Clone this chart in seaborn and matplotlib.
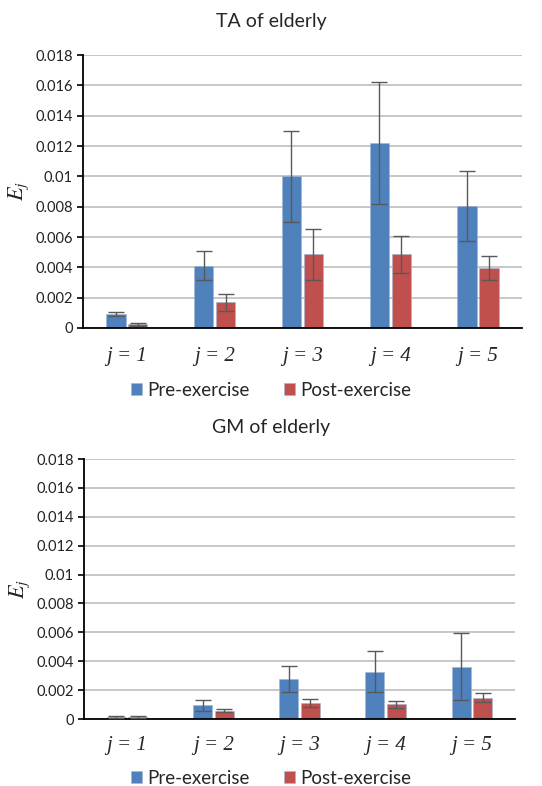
import pandas as pd
import matplotlib
matplotlib.use('Agg')
import matplotlib.pyplot as plt
import seaborn as sns

# data
categories = ['j = 1', 'j = 2', 'j = 3', 'j = 4', 'j = 5']
groups = ['Pre-exercise', 'Post-exercise']

ta_pre = [0.00092, 0.00411, 0.01001, 0.01219, 0.00803]
ta_pre_err = [0.00015, 0.00095, 0.0030, 0.0040, 0.0023]
ta_post = [0.00026, 0.00169, 0.00486, 0.00486, 0.00396]
ta_post_err = [0.0001, 0.00057, 0.0017, 0.00123, 0.00077]

gm_pre = [0.00014, 0.00095, 0.00277, 0.00328, 0.00363]
gm_pre_err = [0.00007, 0.00037, 0.0009, 0.0014, 0.0023]
gm_post = [0.00014, 0.00058, 0.00111, 0.00102, 0.00148]
gm_post_err = [0.00005, 0.0001, 0.00025, 0.00025, 0.00032]

yticks = [0, 0.002, 0.004, 0.006, 0.008, 0.01, 0.012, 0.014, 0.016, 0.018]
ytick_labels = ['0', '0.002', '0.004', '0.006', '0.008', '0.01', '0.012', '0.014', '0.016', '0.018']

colors = ['#4F81BD', '#C0504D']

sns.set_style('white')
plt.rcParams['font.family'] = ['Lato', 'DejaVu Sans']
plt.rcParams['mathtext.fontset'] = 'stix'

fig = plt.figure(figsize=(5.42, 7.86), dpi=100)
ax_top = fig.add_axes([0.153, 0.5827, 0.810, 0.3473])
ax_bot = fig.add_axes([0.155, 0.0852, 0.795, 0.3308])


def draw_panel(ax, pre, pre_err, post, post_err, title, title_y, legend_y, label_pad):
    df = pd.DataFrame({
        'cat': categories * 2,
        'group': [groups[0]] * 5 + [groups[1]] * 5,
        'value': pre + post,
    })
    sns.barplot(data=df, x='cat', y='value', hue='group', palette=colors,
                width=0.5, gap=0.12, errorbar=None, saturation=1,
                edgecolor='#9FB5D5', linewidth=0.4, ax=ax)
    errs = pre_err + post_err
    vals = pre + post
    for patch, v, e in zip(ax.patches, vals, errs):
        x = patch.get_x() + patch.get_width() / 2
        ax.errorbar(x, v, yerr=e, color='#595959', elinewidth=1.0,
                    capsize=5.5, capthick=1.0, zorder=5)

    ax.set_ylim(0, 0.018)
    ax.set_xlim(-0.5, 4.5)
    ax.set_yticks(yticks)
    ax.set_yticklabels(ytick_labels, fontsize=10.5, color='#222222')
    ax.yaxis.grid(True, color='#BDBDBD', linewidth=1.2)
    ax.set_axisbelow(True)

    # category boundaries as major ticks, labels at minor ticks
    ax.set_xticks([-0.5, 0.5, 1.5, 2.5, 3.5, 4.5])
    ax.set_xticklabels([])
    ax.set_xticks(range(5), minor=True)
    ax.set_xticklabels(categories, minor=True, fontsize=15,
                       family='Liberation Serif', style='italic')
    ax.tick_params(axis='x', which='major', direction='inout', length=9, width=1.2, color='black')
    ax.tick_params(axis='x', which='minor', length=0, pad=label_pad)
    ax.tick_params(axis='y', direction='out', length=4, width=1.2, color='black', left=True)

    for side in ['top', 'right']:
        ax.spines[side].set_visible(False)
    for side in ['left', 'bottom']:
        ax.spines[side].set_color('black')
        ax.spines[side].set_linewidth(1.3)

    ax.set_xlabel('')
    ax.set_ylabel(r'$E_j$', fontsize=16, labelpad=3)

    handles, labels = ax.get_legend_handles_labels()
    ax.get_legend().remove()
    fig.legend(handles, labels, loc='center', bbox_to_anchor=(0.5, legend_y),
               ncol=2, frameon=False, fontsize=13.5, handlelength=0.6,
               handleheight=0.6, handletextpad=0.3, columnspacing=1.8)
    fig.text(0.5, title_y, title, ha='center', va='center', fontsize=14)


draw_panel(ax_top, ta_pre, ta_pre_err, ta_post, ta_post_err,
           'TA of elderly', 1 - 22 / 786, 1 - 390 / 786, 14)
draw_panel(ax_bot, gm_pre, gm_pre_err, gm_post, gm_post_err,
           'GM of elderly', 1 - 428 / 786, 1 - 778 / 786, 12)

plt.savefig('out.png', dpi=100)
